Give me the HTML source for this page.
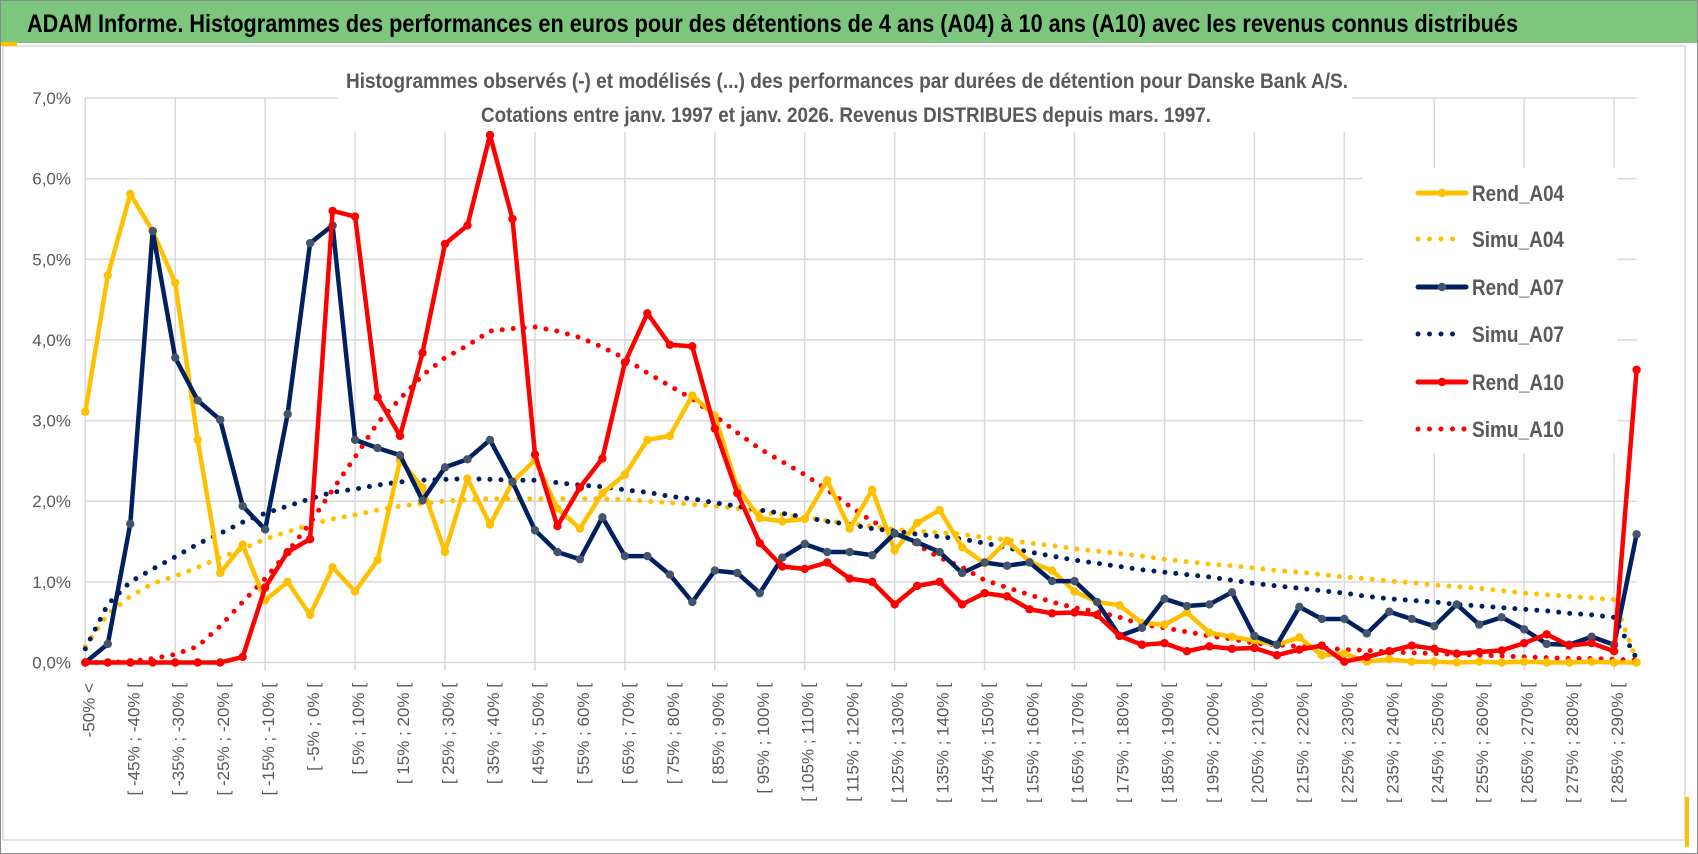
<!DOCTYPE html>
<html><head><meta charset="utf-8"><title>ADAM Informe - Danske Bank</title>
<style>
html,body{margin:0;padding:0;background:#fff;}
svg{display:block;font-family:"Liberation Sans Narrow","Liberation Sans",sans-serif;}
</style></head>
<body>
<svg id="chart" width="1698" height="854" viewBox="0 0 1698 854" xmlns="http://www.w3.org/2000/svg">
  <rect x="0.5" y="0.5" width="1697" height="853" fill="#fff" stroke="#8a8a8a"/>
  <rect x="1" y="1" width="1696" height="42" fill="#7DC67D"/>
  <text x="27" y="32" font-size="25" font-weight="bold" fill="#000" textLength="1491" lengthAdjust="spacingAndGlyphs">ADAM Informe. Histogrammes des performances en euros pour des détentions de 4 ans (A04) à 10 ans (A10) avec les revenus connus distribués</text>
  <rect x="3" y="46" width="1682" height="794" fill="#fff" stroke="#d9d9d9" stroke-width="1.5"/>
  <rect x="1" y="42" width="16" height="4" fill="#FFC000"/>
  <rect x="1685" y="797" width="4" height="50" fill="#FFC000"/>
  <g id="grid"></g>
  <g id="yaxis"></g>
  <g id="xaxis"></g>
  <rect x="338" y="60" width="1014" height="72" fill="#fff"/>
  <text x="346" y="88" font-size="21" font-weight="bold" fill="#595959" textLength="1002" lengthAdjust="spacingAndGlyphs">Histogrammes observés (-) et modélisés (...) des performances par durées de détention pour Danske Bank A/S.</text>
  <text x="481" y="122" font-size="21" font-weight="bold" fill="#595959" textLength="730" lengthAdjust="spacingAndGlyphs">Cotations entre janv. 1997 et janv. 2026. Revenus DISTRIBUES depuis mars. 1997.</text>
  <g id="series"></g>
  <rect x="1363" y="168" width="254" height="285" fill="#fff"/>
  <g id="legend"></g>
</svg>
<script>
const categories = ["-50% <"];
for (let k = 1; k <= 68; k++) { const a = -50 + 5 * (k - 1); categories.push("[ " + a + "% ; " + (a + 5) + "% ["); }
categories.push("> 290%");
const yTicks = [0,1,2,3,4,5,6,7];
const yTickLabels = ["0,0%","1,0%","2,0%","3,0%","4,0%","5,0%","6,0%","7,0%"];
const seriesNames = ["Rend_A04","Simu_A04","Rend_A07","Simu_A07","Rend_A10","Simu_A10"];
const rendA04 = [3.11,4.80,5.81,5.35,4.71,2.76,1.11,1.46,0.77,1.00,0.59,1.18,0.88,1.27,2.51,2.17,1.37,2.28,1.71,2.24,2.51,1.91,1.66,2.10,2.33,2.76,2.81,3.31,3.06,2.17,1.79,1.75,1.78,2.26,1.66,2.14,1.39,1.73,1.89,1.43,1.23,1.51,1.25,1.14,0.88,0.75,0.71,0.49,0.47,0.62,0.37,0.32,0.27,0.22,0.31,0.09,0.11,0.01,0.04,0.01,0.01,0.00,0.01,0.00,0.01,0.00,0.00,0.01,0.00,0.00];
const simuA04 = [0.20,0.60,0.82,0.98,1.07,1.18,1.30,1.41,1.53,1.62,1.71,1.78,1.83,1.89,1.94,1.97,2.00,2.02,2.03,2.03,2.03,2.03,2.03,2.03,2.02,2.00,1.98,1.96,1.94,1.91,1.87,1.83,1.80,1.76,1.72,1.69,1.65,1.63,1.61,1.59,1.55,1.52,1.48,1.45,1.41,1.38,1.35,1.32,1.28,1.25,1.22,1.20,1.17,1.14,1.12,1.09,1.06,1.04,1.01,0.99,0.96,0.94,0.92,0.89,0.86,0.84,0.82,0.80,0.78,0.02];
const rendA07 = [0.00,0.23,1.72,5.35,3.78,3.25,3.01,1.94,1.65,3.08,5.20,5.42,2.76,2.66,2.57,2.01,2.42,2.52,2.76,2.24,1.64,1.37,1.28,1.80,1.32,1.32,1.09,0.75,1.14,1.11,0.86,1.30,1.47,1.37,1.37,1.33,1.60,1.49,1.37,1.11,1.24,1.20,1.24,1.01,1.01,0.75,0.33,0.43,0.79,0.70,0.72,0.87,0.33,0.22,0.69,0.54,0.54,0.36,0.63,0.54,0.45,0.72,0.47,0.56,0.41,0.23,0.22,0.32,0.22,1.59];
const simuA07 = [0.17,0.72,1.00,1.16,1.31,1.47,1.60,1.74,1.85,1.94,2.03,2.11,2.15,2.20,2.24,2.26,2.27,2.28,2.27,2.26,2.26,2.23,2.20,2.18,2.14,2.11,2.06,2.03,1.98,1.94,1.89,1.85,1.80,1.75,1.71,1.66,1.63,1.59,1.56,1.53,1.48,1.42,1.37,1.32,1.27,1.23,1.19,1.15,1.12,1.09,1.06,1.02,0.98,0.95,0.92,0.89,0.86,0.82,0.79,0.77,0.75,0.72,0.70,0.68,0.66,0.64,0.61,0.59,0.56,0.05];
const rendA10 = [0,0,0,0,0,0,0,0.07,0.93,1.37,1.53,5.60,5.53,3.29,2.81,3.84,5.19,5.42,6.54,5.50,2.58,1.69,2.17,2.53,3.72,4.33,3.94,3.92,2.90,2.10,1.48,1.19,1.16,1.24,1.04,1.00,0.72,0.95,1.00,0.72,0.86,0.82,0.66,0.61,0.62,0.59,0.33,0.22,0.24,0.14,0.20,0.17,0.18,0.09,0.16,0.21,0.01,0.07,0.14,0.21,0.17,0.11,0.13,0.15,0.24,0.35,0.21,0.24,0.14,3.63];
const simuA10 = [0.00,0.00,0.01,0.05,0.10,0.20,0.45,0.75,1.04,1.37,1.73,2.14,2.55,2.97,3.27,3.56,3.78,3.93,4.11,4.14,4.16,4.11,4.03,3.91,3.77,3.59,3.43,3.27,3.06,2.85,2.65,2.49,2.33,2.14,1.94,1.75,1.62,1.46,1.30,1.18,1.02,0.93,0.84,0.75,0.68,0.63,0.56,0.47,0.43,0.38,0.33,0.29,0.24,0.22,0.20,0.18,0.16,0.15,0.13,0.12,0.11,0.10,0.09,0.08,0.07,0.06,0.05,0.05,0.04,0.03];

const NS = "http://www.w3.org/2000/svg";
const X0 = 85.3, X1 = 1636.6, Y0 = 662.5, Y7 = 98;
function xPos(i) { return X0 + (X1 - X0) * i / (categories.length - 1); }
function yPos(v) { return Y0 - (Y0 - Y7) * v / 7; }
function mk(tag, attrs, parent) { const e = document.createElementNS(NS, tag); for (const k in attrs) e.setAttribute(k, attrs[k]); parent.appendChild(e); return e; }

const grid = document.getElementById("grid");
yTicks.forEach(function (t) {
  const l = mk("line", {x1: X0, x2: X1, y1: yPos(t), y2: yPos(t), stroke: "#d9d9d9", "stroke-width": 1.5}, grid);
  
  
});
for (let i = 0; i < categories.length; i += 4) {
  const l = mk("line", {x1: xPos(i), x2: xPos(i), y1: Y7, y2: Y0 + 8, stroke: "#d9d9d9", "stroke-width": 1.5}, grid);
  
  
}
const yaxis = document.getElementById("yaxis");
yTicks.forEach(function (t, k) {
  const tx = mk("text", {x: 71, y: yPos(t) + 6, "text-anchor": "end", "font-size": 17, fill: "#595959"}, yaxis);
  tx.textContent = yTickLabels[k];
  
  
});
const xaxis = document.getElementById("xaxis");
categories.forEach(function (c, i) {
  if (i % 2 !== 0) return;
  const x = xPos(i) + 9, y = 683;
  const tx = mk("text", {x: x, y: y, "text-anchor": "end", "font-size": 17, fill: "#595959", transform: "rotate(-90 " + x + " " + y + ")"}, xaxis);
  tx.textContent = c;
  
  
});

const seriesData = [rendA04, simuA04, rendA07, simuA07, rendA10, simuA10];
const colors = ["#FFC000","#FFC000","#002060","#002060","#FF0000","#FF0000"];
const markerFill = ["#FFC000",null,"#44546A",null,"#FF0000",null];
const sg = document.getElementById("series");
const order = [1,3,5,0,2,4];
order.forEach(function (s) {
  const vals = seriesData[s];
  const pts = vals.map(function (v, i) { return xPos(i).toFixed(1) + "," + yPos(v).toFixed(1); }).join(" ");
  const g = mk("g", {}, sg);
  
  
  const dotted = s % 2 === 1;
  const pl = mk("polyline", {points: pts, fill: "none", stroke: colors[s], "stroke-width": dotted ? 5 : 4.5, "stroke-linejoin": "round", "stroke-linecap": "round"}, g);
  if (dotted) pl.setAttribute("stroke-dasharray", "0 11");
  
  
  if (!dotted) {
    vals.forEach(function (v, i) {
      const c = mk("circle", {cx: xPos(i), cy: yPos(v), r: 4.2, fill: markerFill[s]}, g);
      
      
    });
  }
});

const legendY = [193, 239, 287, 334, 382, 429];
const lg = document.getElementById("legend");
seriesNames.forEach(function (n, s) {
  const g = mk("g", {}, lg);
  
  
  const y = legendY[s];
  if (s % 2 === 0) {
    mk("line", {x1: 1418, x2: 1466, y1: y, y2: y, stroke: colors[s], "stroke-width": 5, "stroke-linecap": "round"}, g);
    mk("circle", {cx: 1442, cy: y, r: 4.2, fill: markerFill[s]}, g);
  } else {
    mk("line", {x1: 1418, x2: s === 5 ? 1466 : 1457, y1: y, y2: y, stroke: colors[s], "stroke-width": 5, "stroke-linecap": "round", "stroke-dasharray": "0 11.5"}, g);
  }
  const t = mk("text", {x: 1472, y: y + 8, "font-size": 22, "font-weight": "bold", fill: "#595959", textLength: 92, lengthAdjust: "spacingAndGlyphs"}, g);
  t.textContent = n;
});
</script>
</body></html>
